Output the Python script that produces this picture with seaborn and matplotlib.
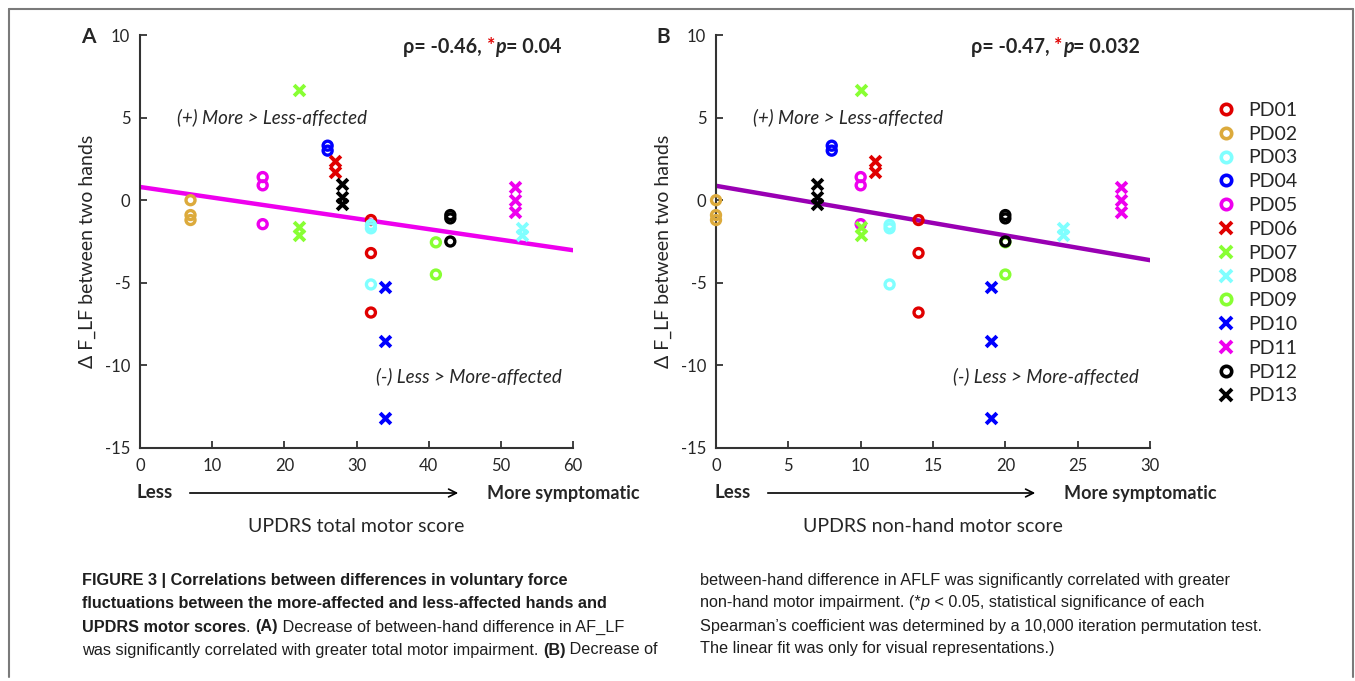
import numpy as np
import pandas as pd
import seaborn as sns
import matplotlib.pyplot as plt
from matplotlib.lines import Line2D

# ---- data ----
subjects = ["PD01", "PD02", "PD03", "PD04", "PD05", "PD06", "PD07",
            "PD08", "PD09", "PD10", "PD11", "PD12", "PD13"]
updrs_total = [32, 7, 32, 26, 17, 27, 22, 53, 41, 34, 52, 43, 28]
updrs_nonhand = [14, 0, 12, 8, 10, 11, 10, 24, 20, 19, 28, 20, 7]
force_diff = [
    [-1.2, -3.2, -6.8],     # PD01
    [0.0, -0.9, -1.2],      # PD02
    [-1.5, -1.7, -5.1],     # PD03
    [3.3, 3.0],             # PD04
    [1.4, 0.9, -1.45],      # PD05
    [2.4, 1.7],             # PD06
    [6.65, -1.65, -2.1],    # PD07
    [-1.7, -2.1],           # PD08
    [-2.55, -4.5],          # PD09
    [-5.25, -8.55, -13.2],  # PD10
    [0.8, 0.0, -0.7],       # PD11
    [-0.9, -1.1, -2.5],     # PD12
    [1.0, 0.2, -0.2],       # PD13
]
# linear fits (intercept, slope) as drawn in the figure
fit_total = (0.8, -0.0638)
fit_nonhand = (0.87, -0.15)
rho_total, p_total = "-0.46", "0.04"
rho_nonhand, p_nonhand = "-0.47", "0.032"

# ---- styles ----
markers = ["o", "o", "o", "o", "o", "x", "x", "x", "o", "x", "x", "o", "x"]
colors = ["#e00000", "#dcaa3c", "#80ffff", "#0000ff", "#ee00ee", "#e00000", "#88ff33",
          "#80ffff", "#88ff33", "#0000ff", "#ee00ee", "#000000", "#000000"]

rows = []
for subj, tot, nh, vals in zip(subjects, updrs_total, updrs_nonhand, force_diff):
    for v in vals:
        rows.append({"subject": subj, "total": tot, "nonhand": nh, "diff": v})
df = pd.DataFrame(rows)

sns.set_style("ticks")
plt.rcParams["font.family"] = ["Lato", "DejaVu Sans"]
plt.rcParams["axes.unicode_minus"] = False
axis_col = "#333333"

W, H = 1355, 681
fig = plt.figure(figsize=(W / 100, H / 100), dpi=100)
ax_a = fig.add_axes([140 / W, 1 - 448 / H, 433 / W, 413 / H])
ax_b = fig.add_axes([716 / W, 1 - 448 / H, 434 / W, 413 / H])

panels = [
    (ax_a, "total", fit_total, 60, 10, "#ee00ee", "UPDRS total motor score"),
    (ax_b, "nonhand", fit_nonhand, 30, 5, "#9900b3", "UPDRS non-hand motor score"),
]

for ax, xcol, fit, xmax, step, line_col, xlabel in panels:
    xs = np.array([0, xmax])
    sns.lineplot(x=xs, y=fit[0] + fit[1] * xs, ax=ax, color=line_col, linewidth=3.2, zorder=1)
    for subj, mk, col in zip(subjects, markers, colors):
        sub = df[df["subject"] == subj]
        if mk == "o":
            sns.scatterplot(data=sub, x=xcol, y="diff", ax=ax, marker="o", s=42,
                            facecolor="none", edgecolor=col, linewidth=2.4, zorder=3,
                            clip_on=False)
        else:
            sns.scatterplot(data=sub, x=xcol, y="diff", ax=ax, marker="x", s=60,
                            color=col, linewidth=2.8, zorder=3, clip_on=False)
    ax.set_xlim(0, xmax)
    ax.set_ylim(-15, 10)
    ax.set_xticks(np.arange(0, xmax + 1, step))
    ax.set_yticks(np.arange(-15, 11, 5))
    sns.despine(ax=ax)
    for sp in ["left", "bottom"]:
        ax.spines[sp].set_color(axis_col)
        ax.spines[sp].set_linewidth(1.5)
    ax.tick_params(direction="in", length=5, width=1.3, color=axis_col,
                   labelsize=12, pad=7)
    ax.set_xlabel(xlabel, fontsize=14)
    ax.xaxis.set_label_coords(0.5, -(527 - 448) / 413)
    ax.xaxis.label.set_va("center")
    ax.set_ylabel("Δ F_LF between two hands", fontsize=14)
    ax.yaxis.set_label_coords(-0.121, 0.475)
    ax.yaxis.label.set_va("center")
    ax.text(0.085 * xmax, 5.0, "(+) More > Less-affected", style="italic",
            fontsize=13.5, va="center")
    ax.text(0.545 * xmax, -10.65, "(-) Less > More-affected", style="italic",
            fontsize=13.5, va="center")

renderer = fig.canvas.get_renderer()


def run_width(txt, props):
    t1 = fig.text(0, 0, "I" + txt + "I", **props)
    t2 = fig.text(0, 0, "II", **props)
    w = t1.get_window_extent(renderer).width - t2.get_window_extent(renderer).width
    t1.remove()
    t2.remove()
    return w


def put_runs(x_px, y_px, runs, base):
    x = x_px
    for txt, extra in runs:
        props = dict(base, **extra)
        fig.text(x / W, 1 - y_px / H, txt, va="center", ha="left", **props)
        x += run_width(txt, props)


# correlation labels
for x0, rho, p in [(403, rho_total, p_total), (971, rho_nonhand, p_nonhand)]:
    base = dict(fontsize=14.2, fontweight="bold")
    put_runs(x0, 47, [(f"ρ= {rho}, ", {}), ("*", {"color": "#e00000"}),
                      ("p", {"style": "italic"}), (f"= {p}", {})], base)

# panel letters
fig.text(88 / W, 1 - 37 / H, "A", fontsize=15, fontweight="bold", ha="center", va="center")
fig.text(663 / W, 1 - 37 / H, "B", fontsize=15, fontweight="bold", ha="center", va="center")

# less / more symptomatic arrows
for less_x, a0, a1, more_x in [(137, 187, 461, 487), (714, 765, 1038, 1064)]:
    fig.text(less_x / W, 1 - 493 / H, "Less", fontsize=13.5, fontweight="bold", va="center")
    fig.text(more_x / W, 1 - 493 / H, "More symptomatic", fontsize=13,
             fontweight="bold", va="center")
    fig.add_artist(plt.Annotation("", xy=(a1 / W, 1 - 493 / H), xytext=(a0 / W, 1 - 493 / H),
                                  xycoords="figure fraction", textcoords="figure fraction",
                                  arrowprops=dict(arrowstyle="->", color="black", lw=1.2,
                                                  mutation_scale=14)))

# legend
handles = []
for mk, col in zip(markers, colors):
    if mk == "o":
        handles.append(Line2D([], [], marker="o", linestyle="none", markersize=7.5,
                              markerfacecolor="none", markeredgecolor=col, markeredgewidth=2.6))
    else:
        handles.append(Line2D([], [], marker="x", linestyle="none", markersize=8,
                              color=col, markeredgewidth=2.8))
fig.legend(handles, subjects, loc="upper left", bbox_to_anchor=(1205 / W, 1 - 92 / H),
           frameon=False, fontsize=14, labelspacing=0.35, handlelength=1.2,
           handletextpad=0.55, borderpad=0)

# caption
cap = dict(fontsize=11.7, color="#1e1e1e", family=["Liberation Sans Narrow", "Liberation Sans"])
B = {"fontweight": "bold"}
N = {}
left_lines = [
    [("FIGURE 3 | Correlations between differences in voluntary force", B)],
    [("fluctuations between the more-affected and less-affected hands and", B)],
    [("UPDRS motor scores", B), (". ", N), ("(A)", B),
     (" Decrease of between-hand difference in AF_LF", N)],
    [("was significantly correlated with greater total motor impairment. ", N),
     ("(B)", B), (" Decrease of", N)],
]
right_lines = [
    [("between-hand difference in AFLF was significantly correlated with greater", N)],
    [("non-hand motor impairment. (*", N), ("p", {"style": "italic"}),
     (" < 0.05, statistical significance of each", N)],
    [("Spearman\u2019s coefficient was determined by a 10,000 iteration permutation test.", N)],
    [("The linear fit was only for visual representations.)", N)],
]
for i, line in enumerate(left_lines):
    put_runs(82, 581 + 23 * i, line, cap)
for i, line in enumerate(right_lines):
    put_runs(700, 580 + 23 * i, line, cap)

# page frame
frame_col = "#7a7a7a"
for xs_, ys_ in [([9, 9], [9, 677]), ([9, 1353], [9, 9]), ([1353, 1353], [9, 677])]:
    fig.add_artist(Line2D([x / W for x in xs_], [1 - y / H for y in ys_],
                          color=frame_col, linewidth=1.5))

fig.savefig("out.png", dpi=100)
